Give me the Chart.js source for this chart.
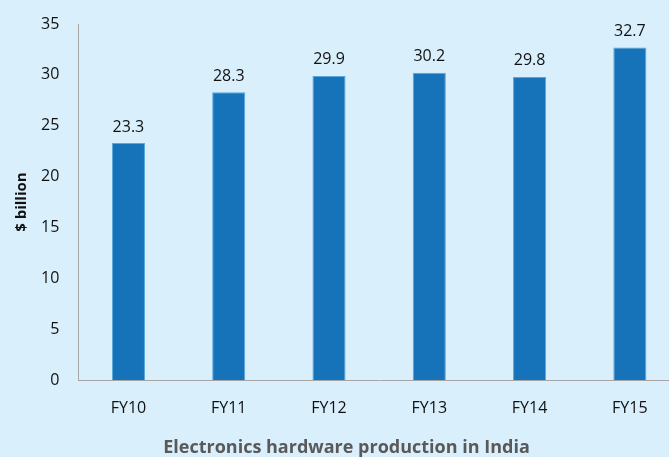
<!DOCTYPE html>
<html>
<head>
  <title>Electronics hardware production in India</title>
  <script src="https://cdn.jsdelivr.net/npm/chart.js"></script>
  <style>
    html, body { margin: 0; padding: 0; background: #d9effb; overflow: hidden; }
    #wrap { width: 680px; height: 457px; }
  </style>
</head>
<body>
    <div id="wrap">
        <canvas id="myChart"></canvas>
    </div>

      <script>
// Chart data
const years = ['FY10', 'FY11', 'FY12', 'FY13', 'FY14', 'FY15'];
const production = [23.3, 28.3, 29.9, 30.2, 29.8, 32.7];
const yTicks = [0, 5, 10, 15, 20, 25, 30, 35];

const fontFamily = '"Open Sans", "Noto Sans", sans-serif';

// Value labels above each bar
const valueLabels = {
  id: 'valueLabels',
  afterDatasetsDraw(chart) {
    const ctx = chart.ctx;
    const meta = chart.getDatasetMeta(0);
    ctx.save();
    ctx.font = '16px ' + fontFamily;
    ctx.fillStyle = '#111';
    ctx.textAlign = 'center';
    ctx.textBaseline = 'bottom';
    meta.data.forEach((bar, i) => {
      ctx.fillText(production[i].toFixed(1), bar.x, bar.y - 8);
    });
    ctx.restore();
  }
};

const ctx = document.getElementById('myChart');

const chart = new Chart(ctx, {
  type: 'bar',
  data: {
    labels: years,
    datasets: [{
      data: production,
      backgroundColor: '#1673b9',
      borderColor: '#5aa7dc',
      borderWidth: 1,
      barPercentage: 0.33,
      categoryPercentage: 1.0
    }]
  },
  options: {
    responsive: true,
    maintainAspectRatio: false,
    animation: false,
    layout: { padding: { top: 0, left: 13, right: 0, bottom: 0 } },
    plugins: {
      legend: { display: false },
      tooltip: { enabled: false },
      title: {
        display: true,
        position: 'bottom',
        text: 'Electronics hardware production in India',
        color: '#595959',
        font: { family: fontFamily, size: 18, weight: 'bold' },
        padding: { top: 0, bottom: -2 }
      }
    },
    scales: {
      x: {
        grid: { display: false, drawTicks: false },
        border: { display: true, color: '#a6a6a6', width: 1 },
        ticks: {
          color: '#111',
          font: { family: fontFamily, size: 16 },
          padding: 19
        }
      },
      y: {
        min: 0,
        max: 35,
        afterBuildTicks(scale) {
          scale.ticks = yTicks.map(v => ({ value: v }));
        },
        afterFit(scale) {
          scale.paddingTop = 24;
          scale.paddingBottom = 10;
        },
        grid: { display: false, drawTicks: false },
        border: { display: true, color: '#a6a6a6', width: 1 },
        ticks: {
          color: '#111',
          font: { family: fontFamily, size: 16 },
          padding: 19
        },
        title: {
          display: true,
          text: '$ billion',
          color: '#111',
          font: { family: fontFamily, size: 15, weight: 'bold' },
          padding: { top: 0, bottom: -9 }
        }
      }
    }
  },
  plugins: [valueLabels]
});
      </script>

</body>
</html>
